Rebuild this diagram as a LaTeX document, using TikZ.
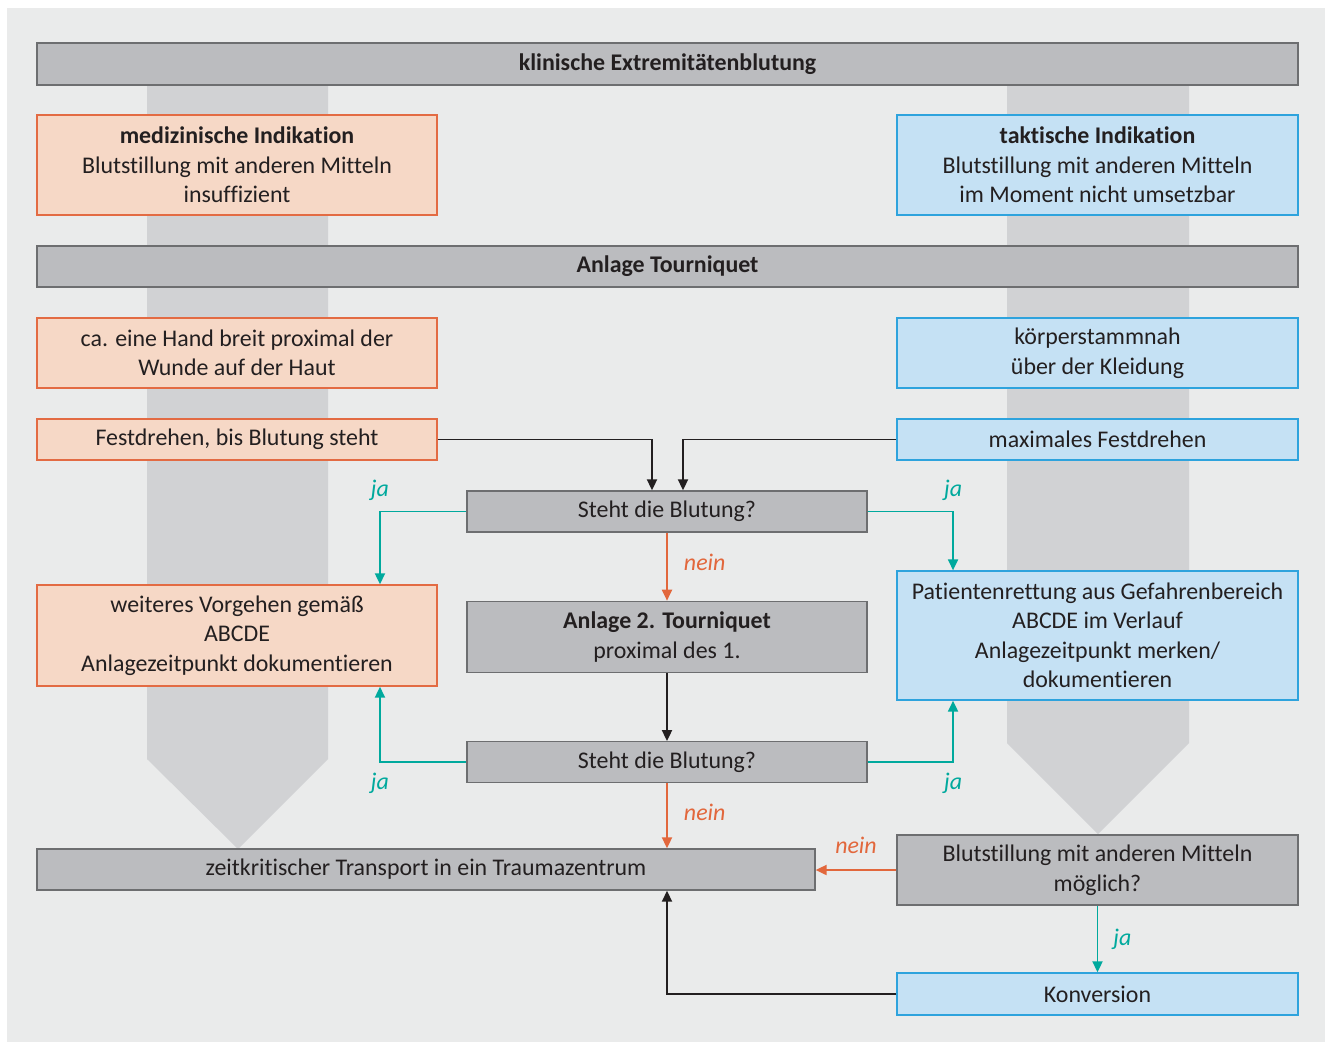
\documentclass[tikz,border=0pt]{standalone}
\usepackage{fontspec}
\setmainfont{Carlito}[Ligatures=NoCommon]
\usepackage{xcolor}
\usepackage{tikz}
\usetikzlibrary{positioning,arrows.meta}

\definecolor{bggrey}{HTML}{EAEBEB}
\definecolor{bandgrey}{HTML}{D1D2D4}
\definecolor{boxgrey}{HTML}{BBBCBF}
\definecolor{boxline}{HTML}{6D6E70}
\definecolor{medfill}{HTML}{F6D8C6}
\definecolor{medline}{HTML}{E36B43}
\definecolor{takfill}{HTML}{C5E1F4}
\definecolor{takline}{HTML}{2EA3DD}
\definecolor{jacol}{HTML}{00A99D}
\definecolor{neincol}{HTML}{E2673C}
\definecolor{txt}{HTML}{231F20}

\begin{document}
\begin{tikzpicture}[x=0.02cm, y=-0.02cm, node distance = 1.36cm,
        font=\fontsize{13.6pt}{16.8pt}\selectfont]
            \tikzstyle{grey} = [draw=boxline, fill=boxgrey, line width=0.8pt, inner sep=0pt, align=center, text=txt];
            \tikzstyle{med} = [draw=medline, fill=medfill, line width=0.8pt, inner sep=0pt, align=center, text=txt, minimum width=8cm];
            \tikzstyle{tak} = [draw=takline, fill=takfill, line width=0.8pt, inner sep=0pt, align=center, text=txt, minimum width=8.02cm];
            \tikzstyle{arr} = [-{Triangle[width=0.2cm, length=0.22cm]}, line width=1.1pt, txt];
            \tikzstyle{ja} = [arr, jacol];
            \tikzstyle{nein} = [arr, neincol];
            \tikzstyle{lbl} = [font=\fontsize{13.6pt}{16.8pt}\selectfont\itshape, inner sep=0pt];

            \useasboundingbox (0,0) rectangle (1325,1042);
            \fill [bggrey] (7,8) rectangle (1325,1042);

            % grey bands behind the columns
            \fill [bandgrey] (147,64) -- (328,64) -- (328,759) -- (238,849) -- (147,759) -- cycle;
            \fill [bandgrey] (1007,64) -- (1189,64) -- (1189,743) -- (1098,834) -- (1007,743) -- cycle;

            \node [grey, minimum width=25.22cm, minimum height=0.84cm] (B0) at (667.5,64) {\textbf{klinische Extremitätenblutung}};

            \node [med, minimum height=2cm] (B1) at (237,165) {\textbf{medizinische Indikation}\\Blutstillung mit anderen Mitteln\\insuffizient};
            \node [tak, minimum height=2cm] (B2) at (1097.5,165) {\textbf{taktische Indikation}\\Blutstillung mit anderen Mitteln\\im Moment nicht umsetzbar};

            \node [grey, minimum width=25.22cm, minimum height=0.82cm] (B3) at (667.5,266.5) {\textbf{Anlage Tourniquet}};

            \node [med, minimum height=1.4cm] (B4) at (237,353) {ca. eine Hand breit proximal der\\Wunde auf der Haut};
            \node [tak, minimum height=1.4cm] (B5) at (1097.5,353) {körperstammnah\\über der Kleidung};

            \node [med, minimum height=0.82cm] (B6) at (237,439.5) {Festdrehen, bis Blutung steht};
            \node [tak, minimum height=0.82cm] (B7) at (1097.5,439.5) {maximales Festdrehen};

            \node [grey, minimum width=8cm, minimum height=0.82cm] (B8) at (667,511.5) {Steht die Blutung?};
            \node [grey, minimum width=8cm, minimum height=1.42cm, below = of B8] (B9) {\textbf{Anlage 2. Tourniquet}\\proximal des 1.};
            \node [grey, minimum width=8cm, minimum height=0.82cm, below = of B9] (B10) {Steht die Blutung?};

            \node [med, minimum height=2.02cm] (B11) at (237,635.5) {weiteres Vorgehen gemäß\\ABCDE\\Anlagezeitpunkt dokumentieren};
            \node [tak, minimum height=2.58cm] (B12) at (1097.5,635.5) {Patientenrettung aus Gefahrenbereich\\ABCDE im Verlauf\\Anlagezeitpunkt merken/\\dokumentieren};

            \node [grey, minimum width=15.56cm, minimum height=0.82cm] (B13) at (426,869.5) {zeitkritischer Transport in ein Traumazentrum};
            \node [grey, minimum width=8.02cm, minimum height=1.4cm] (B14) at (1097.5,870) {Blutstillung mit anderen Mitteln\\möglich?};
            \node [tak, minimum height=0.84cm] (B15) at (1097.5,994) {Konversion};

            \draw [arr] (B6.east) -| ([xshift=-0.3cm]B8.north);
            \draw [arr] (B7.west) -| ([xshift=0.32cm]B8.north);
            \draw [nein] (B8) -- node [lbl, right=0.32cm, yshift=0.08cm, neincol] {nein} (B9);
            \draw [arr] (B9) -- (B10);
            \draw [nein] (B10.south) -- node [lbl, right=0.32cm, yshift=0.08cm, neincol] {nein} (B10.south |- B13.north);

            \draw [ja] (B8.west) -| node [lbl, pos=0.5, above=0.2cm, jacol] {ja} ([xshift=2.86cm]B11.north);
            \draw [ja] (B8.east) -| node [lbl, pos=0.5, above=0.2cm, jacol] {ja} ([xshift=-2.89cm]B12.north);
            \draw [ja] (B10.west) -| node [lbl, pos=0.5, below=0.2cm, jacol] {ja} ([xshift=2.86cm]B11.south);
            \draw [ja] (B10.east) -| node [lbl, pos=0.5, below=0.2cm, jacol] {ja} ([xshift=-2.89cm]B12.south);

            \draw [nein] (B14.west) -- node [lbl, above=0.3cm, neincol] {nein} (B14.west -| B13.east);
            \draw [ja] (B14) -- node [lbl, right=0.3cm, jacol] {ja} (B15);
            \draw [arr] (B15.west) -| (B13.south -| B10);
        \end{tikzpicture}
\end{document}
